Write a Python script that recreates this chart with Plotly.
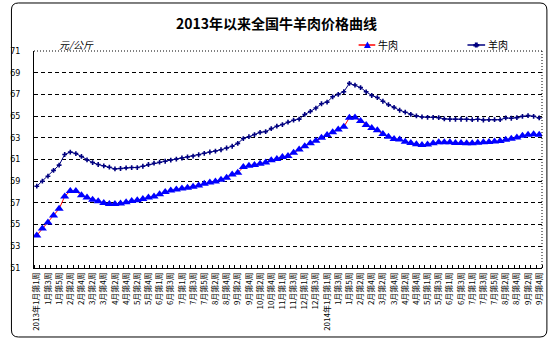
import plotly.graph_objects as go

# ---------------- data ----------------
weeks = list(range(91))  # weekly observations, 2013 Jan week 1 .. 2014 Sep week 4

beef = [54.0, 54.65, 55.2, 55.85, 56.45, 57.6, 58.1, 58.1, 57.7, 57.5,
        57.3, 57.15, 57.0, 56.9, 56.9, 56.95, 57.05, 57.18, 57.25, 57.37,
        57.5, 57.6, 57.8, 58.0, 58.14, 58.23, 58.33, 58.4, 58.48, 58.6,
        58.76, 58.88, 58.98, 59.13, 59.31, 59.62, 59.78, 60.3, 60.43, 60.49,
        60.61, 60.73, 60.92, 61.04, 61.23, 61.32, 61.63, 61.92, 62.23, 62.5,
        62.72, 63.0, 63.25, 63.52, 63.77, 64.02, 64.85, 64.88, 64.55, 64.17,
        63.9, 63.7, 63.35, 63.1, 62.9, 62.85, 62.64, 62.53, 62.4, 62.33,
        62.38, 62.5, 62.58, 62.6, 62.6, 62.52, 62.52, 62.5, 62.5, 62.55,
        62.58, 62.62, 62.66, 62.7, 62.82, 62.92, 63.02, 63.2, 63.28, 63.32,
        63.28]

mutton = [58.54, 59.0, 59.46, 60.0, 60.48, 61.46, 61.68, 61.55, 61.28, 60.97,
          60.72, 60.54, 60.42, 60.29, 60.14, 60.17, 60.23, 60.26, 60.26, 60.38,
          60.54, 60.66, 60.75, 60.84, 60.95, 61.04, 61.14, 61.23, 61.32, 61.44,
          61.57, 61.69, 61.78, 61.9, 62.06, 62.22, 62.49, 62.93, 63.1, 63.3,
          63.5, 63.57, 63.85, 64.07, 64.22, 64.44, 64.62, 64.72, 65.15, 65.43,
          65.74, 66.14, 66.29, 66.78, 67.0, 67.25, 68.02, 67.86, 67.63, 67.24,
          66.9, 66.71, 66.37, 66.05, 65.8, 65.54, 65.36, 65.16, 65.02, 64.92,
          64.89, 64.89, 64.86, 64.74, 64.71, 64.71, 64.71, 64.71, 64.67, 64.71,
          64.64, 64.67, 64.67, 64.67, 64.83, 64.8, 64.86, 64.98, 65.04, 64.98,
          64.83]

tick_labels = ["2013年1月第1周", "1月第3周", "1月第5周", "2月第2周", "2月第4周",
               "3月第2周", "3月第4周", "4月第2周", "4月第4周", "5月第2周",
               "5月第4周", "6月第1周", "6月第3周", "7月第1周", "7月第3周",
               "7月第5周", "8月第2周", "8月第4周", "9月第2周", "9月第4周",
               "10月第2周", "10月第4周", "11月第1周", "11月第3周", "12月第1周",
               "12月第3周", "2014年1月第1周", "1月第3周", "1月第5周", "2月第2周",
               "2月第4周", "3月第2周", "3月第4周", "4月第2周", "4月第4周",
               "5月第1周", "5月第3周", "6月第1周", "6月第3周", "7月第1周",
               "7月第3周", "7月第5周", "8月第2周", "8月第4周", "9月第2周",
               "9月第4周"]
tick_positions = weeks[::2]

y_ticks = [51, 53, 55, 57, 59, 61, 63, 65, 67, 69, 71]

title_text = "2013年以来全国牛羊肉价格曲线"
unit_text = "元/公斤"
beef_name = "牛肉"
mutton_name = "羊肉"

# ---------------- layout geometry (pixels) ----------------
W, H = 554, 342
PL, PR, PT, PB = 26, 544, 51, 268
FONT = "Noto Sans CJK SC"


def px(x):
    return (x - PL) / (PR - PL)


def py(y):
    return (PB - y) / (PB - PT)


def pt(x, y):
    return f"{px(x):.5f},{py(y):.5f}"


fig = go.Figure()

fig.add_trace(go.Scatter(
    x=weeks, y=mutton, mode="lines+markers", name=mutton_name,
    line=dict(color="#000080", width=1),
    marker=dict(symbol="cross", size=4, color="#000080", line=dict(width=0)),
    showlegend=False))

fig.add_trace(go.Scatter(
    x=weeks, y=beef, mode="lines+markers", name=beef_name,
    line=dict(color="#FF0000", width=1),
    marker=dict(symbol="triangle-up", size=8, color="#0000FF", line=dict(width=0)),
    showlegend=False))

shapes = []
# cover top gridline and draw dotted plot border (top & right)
shapes.append(dict(type="line", xref="paper", yref="paper", x0=0, x1=1, y0=1, y1=1,
                   line=dict(color="white", width=2), layer="above"))
shapes.append(dict(type="line", xref="paper", yref="paper", x0=0, x1=1, y0=1, y1=1,
                   line=dict(color="black", width=1, dash="1px,2px"), layer="above"))
shapes.append(dict(type="line", xref="paper", yref="paper", x0=1, x1=1, y0=0, y1=1,
                   line=dict(color="black", width=1, dash="1px,2px"), layer="above"))

# rounded outer frame
x0, y0, x1, y1, r = 3, 3, 549, 337, 7
path = (f"M {pt(x0 + r, y0)} L {pt(x1 - r, y0)} Q {pt(x1, y0)} {pt(x1, y0 + r)} "
        f"L {pt(x1, y1 - r)} Q {pt(x1, y1)} {pt(x1 - r, y1)} "
        f"L {pt(x0 + r, y1)} Q {pt(x0, y1)} {pt(x0, y1 - r)} "
        f"L {pt(x0, y0 + r)} Q {pt(x0, y0)} {pt(x0 + r, y0)} Z")
shapes.append(dict(type="path", xref="paper", yref="paper", path=path,
                   line=dict(color="black", width=1), layer="above"))

# legend keys
ly = 45
shapes.append(dict(type="line", xref="paper", yref="paper",
                   x0=px(357), x1=px(374), y0=py(ly), y1=py(ly),
                   line=dict(color="#FF0000", width=1.5)))
tri = f"M {pt(362.5, ly + 3)} L {pt(369.5, ly + 3)} L {pt(366, ly - 3.5)} Z"
shapes.append(dict(type="path", xref="paper", yref="paper", path=tri,
                   fillcolor="#0000FF", line=dict(width=0)))
shapes.append(dict(type="line", xref="paper", yref="paper",
                   x0=px(468), x1=px(486), y0=py(ly), y1=py(ly),
                   line=dict(color="#000080", width=1.5)))
cross = (f"M {pt(475.5, ly - 2.5)} L {pt(478.5, ly - 2.5)} L {pt(478.5, ly - 1)} "
         f"L {pt(480, ly - 1)} L {pt(480, ly + 1.5)} L {pt(478.5, ly + 1.5)} "
         f"L {pt(478.5, ly + 2.5)} L {pt(475.5, ly + 2.5)} L {pt(475.5, ly + 1.5)} "
         f"L {pt(474, ly + 1.5)} L {pt(474, ly - 1)} L {pt(475.5, ly - 1)} Z")
shapes.append(dict(type="path", xref="paper", yref="paper", path=cross,
                   fillcolor="#000080", line=dict(width=0)))

annotations = [
    dict(text=unit_text, xref="paper", yref="paper", x=px(49), y=py(45),
         xanchor="left", yanchor="middle", showarrow=False,
         font=dict(family=FONT, size=10, color="black", style="italic")),
    dict(text=beef_name, xref="paper", yref="paper", x=px(375), y=py(ly),
         xanchor="left", yanchor="middle", showarrow=False,
         font=dict(family=FONT, size=10, color="black")),
    dict(text=mutton_name, xref="paper", yref="paper", x=px(487), y=py(ly),
         xanchor="left", yanchor="middle", showarrow=False,
         font=dict(family=FONT, size=10, color="black")),
]

fig.update_layout(
    width=W, height=H, autosize=False,
    margin=dict(l=PL, r=W - PR, t=PT, b=H - PB, pad=0),
    paper_bgcolor="white", plot_bgcolor="white",
    font=dict(family=FONT, color="black"),
    title=dict(text=f"<b>{title_text}</b>", x=276.5 / W, y=1 - 24 / H,
               xref="container", yref="container", xanchor="center", yanchor="middle",
               font=dict(family=FONT, size=14, color="black")),
    shapes=shapes, annotations=annotations,
    xaxis=dict(range=[-0.5, 90.5], tickmode="array", tickvals=tick_positions,
               ticktext=tick_labels, tickangle=-90, ticks="", showgrid=False,
               zeroline=False, showline=True, linecolor="black", linewidth=1,
               tickfont=dict(family=FONT, size=8, color="black"),
               minor=dict(tickmode="linear", tick0=-0.5, dtick=1, ticks="inside",
                          ticklen=3, tickcolor="black", tickwidth=1, showgrid=False)),
    yaxis=dict(range=[51, 71], tickmode="array", tickvals=y_ticks,
               ticktext=[str(v) for v in y_ticks], ticks="", showgrid=True,
               gridcolor="black", gridwidth=1, griddash="4px,3px", zeroline=False,
               showline=True, linecolor="black", linewidth=1,
               ticklabelstandoff=11,
               tickfont=dict(family="DejaVu Sans", size=8, color="black")),
)

fig.write_html("out.html")
